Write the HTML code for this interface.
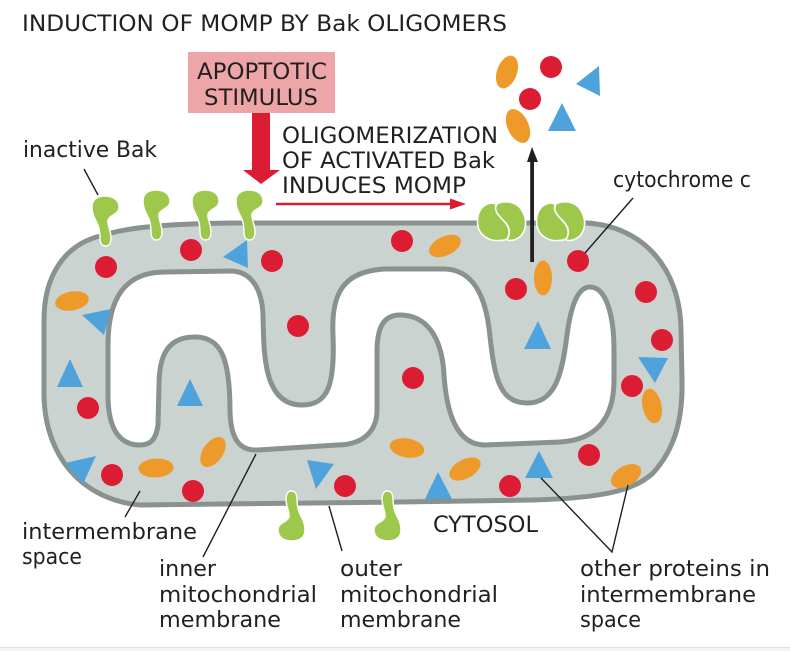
<!DOCTYPE html>
<html><head><meta charset="utf-8"><style>
html,body{margin:0;padding:0;background:#fff;width:790px;height:651px;overflow:hidden}
svg{display:block}
text{font-family:"DejaVu Sans",sans-serif;font-size:22px;fill:#231f20}
.r{fill:#dc1c33}.o{fill:#ee9a2b}.b{fill:#4fa3dc}
.l{stroke:#231f20;stroke-width:1.4;fill:none}
</style></head><body>
<svg width="790" height="651" viewBox="0 0 790 651" xmlns="http://www.w3.org/2000/svg">
<defs>
<path id="bak" d="M0,11 C0,3 6,0 13,0 C21,0 27,4 27,11 C27,19 18,18 16,24 C15,29 19,34 19,42 C19,47 17,50 13.5,50 C10,50 8,47 8,42 C8,35 7,31 5,27 C3,23 0,18 0,11Z" fill="#9dc84b" stroke="#fff" stroke-width="1.4"/>
<g id="dimer" fill="#9dc84b" stroke="#fff" stroke-width="1.6">
<path d="M-6,-17 C-11,-21 -25,-17 -25,0 C-25,14 -13,20 -3,19 C1,19 4,18 5,17 C9,10 6,4 1,-1 C-4,-6 -9,-11 -6,-17Z"/>
<path d="M-6,-17 C-2,-21 14,-22 20,-10 C27,2 22,18 8,19 C5,19 4,18 5,17 C9,10 6,4 1,-1 C-4,-6 -9,-11 -6,-17Z"/>
</g>
</defs>

<text x="22" y="31" textLength="485" lengthAdjust="spacingAndGlyphs">INDUCTION OF MOMP BY Bak OLIGOMERS</text>

<rect x="188" y="52" width="147" height="61" fill="#eda6a8"/>
<text x="197" y="79" textLength="130" lengthAdjust="spacingAndGlyphs">APOPTOTIC</text>
<text x="204" y="105" textLength="114" lengthAdjust="spacingAndGlyphs">STIMULUS</text>
<path d="M252,113H270V170H280L261,184L243,170H252Z" class="r"/>

<text x="282" y="143" textLength="216" lengthAdjust="spacingAndGlyphs">OLIGOMERIZATION</text>
<text x="282" y="168" textLength="213" lengthAdjust="spacingAndGlyphs">OF ACTIVATED Bak</text>
<text x="282" y="193" textLength="184" lengthAdjust="spacingAndGlyphs">INDUCES MOMP</text>
<path d="M276,202.7H450V198.5L466,204L450,209.5V205.3H276Z" class="r"/>

<!-- outer membrane -->
<path d="M44,397 L44,320 C44,275 65,245 100,236 C120,230 145,224 233,223 L587,223 C640,226 680,265 681,330 L682,380 C683,425 672,452 653,473 C635,490 605,498 533,500 L400,502 L140,505 C85,500 46,460 44,397Z" fill="#cbd3d0" stroke="#8a9290" stroke-width="5"/>
<!-- inner membrane -->
<path d="M108,345 C108,298 125,272 165,272 L232,271 C252,272 262,290 263,315 C264,350 262,405 302,405 C328,405 335,385 333,335 C331,295 342,271 385,269 L445,269 C470,270 484,290 489,328 C494,372 497,403 527,403 C555,403 562,375 567,335 C571,305 578,287 590,287 C606,287 614,315 614,350 L614,380 C614,420 595,440 560,442 L485,445 C460,445 447,420 444,375 C442,335 425,315 400,315 C382,315 377,330 377,352 L377,410 C377,432 362,445 337,445 L258,450 C240,451 231,440 230,412 C230,360 222,337 195,337 C170,337 159,352 159,385 L158,425 C156,440 150,445 140,445 C120,445 108,430 108,395Z" fill="#fff" stroke="#8a9290" stroke-width="5"/>

<!-- Bak -->
<use href="#bak" x="92" y="196"/>
<use href="#bak" x="143" y="190"/>
<use href="#bak" x="192" y="190"/>
<use href="#bak" x="236" y="190"/>
<use href="#bak" transform="translate(305,541) rotate(180)"/>
<use href="#bak" transform="translate(401,541) rotate(180)"/>
<use href="#dimer" transform="translate(502.5,221.5)"/>
<use href="#dimer" transform="translate(561.5,221.5)"/>

<!-- black arrow -->
<path d="M530.2,262V162H527L532,147L538,162H534V262Z" fill="#231f20"/>

<!-- red circles -->
<g class="r">
<circle cx="106" cy="267" r="11"/><circle cx="191" cy="250" r="11"/><circle cx="272" cy="261" r="11"/>
<circle cx="298" cy="326" r="11"/><circle cx="402" cy="241" r="11"/><circle cx="516" cy="289" r="11"/>
<circle cx="578" cy="261" r="11"/><circle cx="646" cy="292" r="11"/><circle cx="662" cy="340" r="11"/>
<circle cx="632" cy="386" r="11"/><circle cx="413" cy="378" r="11"/><circle cx="88" cy="408" r="11"/>
<circle cx="112" cy="475" r="11"/><circle cx="193" cy="491" r="11"/><circle cx="345" cy="486" r="11"/>
<circle cx="510" cy="486" r="11"/><circle cx="589" cy="455" r="11"/><circle cx="551" cy="67" r="11"/>
<circle cx="530" cy="99" r="11"/>
</g>
<!-- orange -->
<g class="o">
<ellipse rx="17" ry="9.5" transform="translate(72,301) rotate(-10)"/>
<ellipse rx="17" ry="9.5" transform="translate(445,246) rotate(-25)"/>
<ellipse rx="9" ry="17.5" transform="translate(543,278)"/>
<ellipse rx="9.5" ry="17.5" transform="translate(652,406) rotate(-12)"/>
<ellipse rx="16.5" ry="10" transform="translate(626,476) rotate(-30)"/>
<ellipse rx="17" ry="9.5" transform="translate(465,469) rotate(-28)"/>
<ellipse rx="17.5" ry="9.5" transform="translate(407,448) rotate(10)"/>
<ellipse rx="17.5" ry="9.5" transform="translate(156,468) rotate(-3)"/>
<ellipse rx="17" ry="10" transform="translate(213,452) rotate(-55)"/>
<ellipse rx="17" ry="10" transform="translate(507,72) rotate(-70)"/>
<ellipse rx="18" ry="10.5" transform="translate(518,126) rotate(65)"/>
</g>
<!-- blue -->
<g class="b">
<path d="M247,240L223,257L248,268Z"/>
<path d="M82,315L111,309L104,335Z"/>
<path d="M70,359L57,387H83Z"/>
<path d="M190,379L177,406H203Z"/>
<path d="M538,321L524,349H551Z"/>
<path d="M638,357L668,358L655,383Z"/>
<path d="M65,463L96,456L83,484Z"/>
<path d="M307,460L334,464L316,489Z"/>
<path d="M438,472L425,499H452Z"/>
<path d="M539,451L525,478H553Z"/>
<path d="M599,66L576,84L600,96Z"/>
<path d="M562,103L548,131H576Z"/>
</g>

<!-- leader lines -->
<path class="l" d="M84,169L98,195M256,454L203,557M329,506L342,551M140,491L125,517M541,478L612,552L628,485M633,198L585,253"/>

<!-- labels -->
<text x="23" y="157" textLength="134" lengthAdjust="spacingAndGlyphs">inactive Bak</text>
<text x="613" y="187" textLength="138" lengthAdjust="spacingAndGlyphs">cytochrome c</text>
<text x="433" y="532" textLength="105" lengthAdjust="spacingAndGlyphs">CYTOSOL</text>
<text x="22" y="539" textLength="175" lengthAdjust="spacingAndGlyphs">intermembrane</text>
<text x="22" y="564" textLength="60" lengthAdjust="spacingAndGlyphs">space</text>
<text x="159" y="576" textLength="57" lengthAdjust="spacingAndGlyphs">inner</text>
<text x="159" y="602" textLength="158" lengthAdjust="spacingAndGlyphs">mitochondrial</text>
<text x="159" y="627" textLength="122" lengthAdjust="spacingAndGlyphs">membrane</text>
<text x="340" y="576" textLength="62" lengthAdjust="spacingAndGlyphs">outer</text>
<text x="340" y="602" textLength="158" lengthAdjust="spacingAndGlyphs">mitochondrial</text>
<text x="340" y="627" textLength="121" lengthAdjust="spacingAndGlyphs">membrane</text>
<text x="580" y="576" textLength="190" lengthAdjust="spacingAndGlyphs">other proteins in</text>
<text x="580" y="602" textLength="176" lengthAdjust="spacingAndGlyphs">intermembrane</text>
<text x="580" y="627" textLength="61" lengthAdjust="spacingAndGlyphs">space</text>

<rect x="0" y="647" width="790" height="4" fill="#f1f3f5"/>
<rect x="0" y="647" width="790" height="1" fill="#dcdfe3"/>
</svg>
</body></html>
